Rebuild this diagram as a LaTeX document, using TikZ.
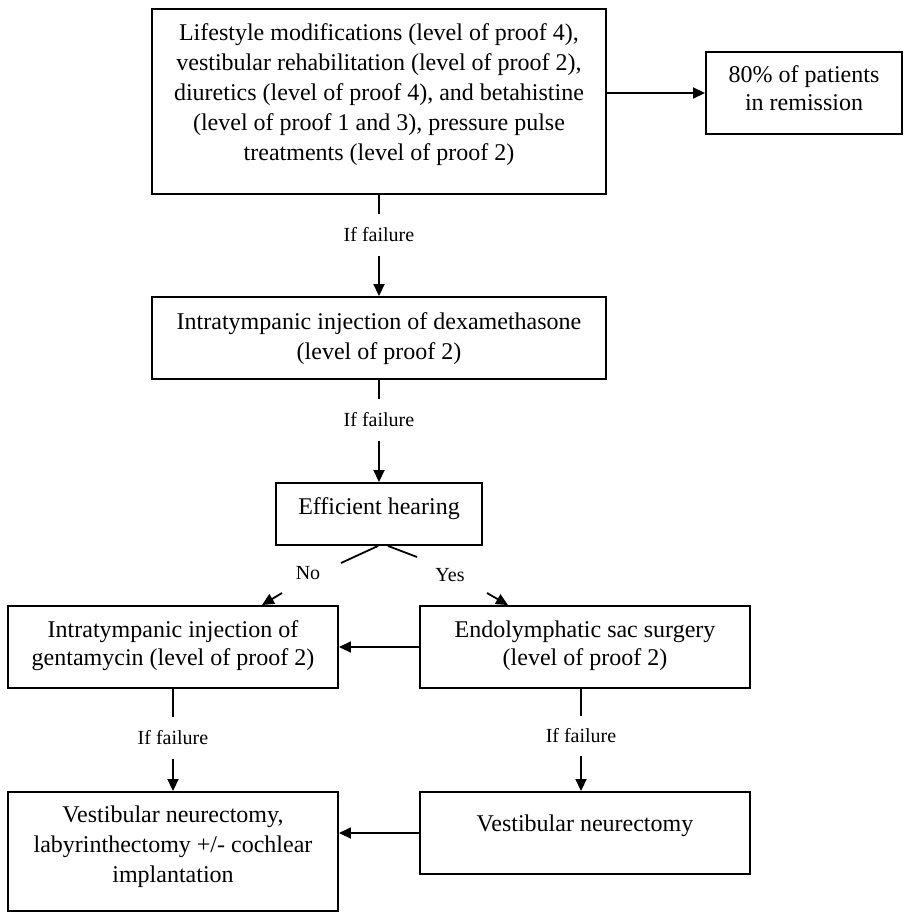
\documentclass[tikz,border=0pt]{standalone}
\usepackage{fontspec}
\setmainfont{Liberation Serif}
\usetikzlibrary{arrows.meta}
\newcommand\fsA{\fontsize{24}{30}\selectfont}
\newcommand\fsB{\fontsize{24}{28}\selectfont}
\newcommand\fsL{\fontsize{20}{24}\selectfont}
\newcommand\boxrows[1]{\begin{tabular}[t]{@{}c@{}}#1\end{tabular}}
\tikzset{
  box/.style={draw, line width=1.9pt, inner sep=0pt, font=\fsA, text height=21pt},
  boxB/.style={box, font=\fsB, text height=19.6pt},
  lbl/.style={inner sep=0pt, font=\fsL, minimum height=42pt},
  yn/.style={inner sep=0pt, font=\fsL},
  ln/.style={line width=1.8pt},
  arr/.style={line width=1.8pt, -{Triangle[length=12pt,width=11pt]}},
}
\begin{document}
\begin{tikzpicture}[x=1pt,y=-1pt]
\useasboundingbox (0,0) rectangle (903,913);
% boxes
\node[box, minimum width=454pt, minimum height=185pt, text depth=144pt] (top) at (379,101.5)
  {\boxrows{Lifestyle modifications (level of proof 4),\\ vestibular rehabilitation (level of proof 2),\\ diuretics (level of proof 4), and betahistine\\ (level of proof 1 and 3), pressure pulse\\ treatments (level of proof 2)}};
\node[boxB, minimum width=196pt, minimum height=82pt, text depth=41.6pt] (rem) at (804,93)
  {\boxrows{80\% of patients\\ in remission}};
\node[box, minimum width=454pt, minimum height=82pt, text depth=39pt] (dexa) at (379,338)
  {\boxrows{Intratympanic injection of dexamethasone\\ (level of proof 2)}};
\node[box, minimum width=206pt, minimum height=62pt, text depth=21pt] (eh) at (379,514)
  {\boxrows{Efficient hearing}};
\node[boxB, minimum width=330pt, minimum height=82pt, text depth=39.6pt] (gent) at (173,647)
  {\boxrows{Intratympanic injection of\\ gentamycin (level of proof 2)}};
\node[boxB, minimum width=330pt, minimum height=82pt, text depth=39.6pt] (endo) at (585,647)
  {\boxrows{Endolymphatic sac surgery\\ (level of proof 2)}};
\node[box, minimum width=330pt, minimum height=119pt, text depth=80pt] (bl) at (173,851.5)
  {\boxrows{Vestibular neurectomy,\\ labyrinthectomy +/- cochlear\\ implantation}};
\node[box, minimum width=330pt, minimum height=82pt, text depth=25pt] (vn) at (585,833)
  {\boxrows{Vestibular neurectomy}};
% labels
\node[lbl] (f1) at (379,235) {If failure};
\node[lbl] (f2) at (379,420) {If failure};
\node[lbl] (f3) at (173,738) {If failure};
\node[lbl, minimum height=40pt] (f4) at (581,736) {If failure};
\node[yn] (no) at (308,573) {No};
\node[yn] (yes) at (450,575) {Yes};
\coordinate (noA) at (341,563);
\coordinate (noB) at (282,593);
\coordinate (yesA) at (417,557);
\coordinate (yesB) at (487,593);
% connectors
\draw[arr] (top.east |- rem.west) -- (rem.west);
\draw[ln] (top.south) -- (f1.north);
\draw[arr] (f1.south) -- (dexa.north);
\draw[ln] (dexa.south) -- (f2.north);
\draw[arr] (f2.south) -- (eh.north);
\draw[ln] ([xshift=-1pt]eh.south) -- (noA);
\draw[arr] (noB) -- ([xshift=89pt]gent.north);
\draw[ln] ([xshift=9pt]eh.south) -- (yesA);
\draw[arr] (yesB) -- ([xshift=-77pt]endo.north);
\draw[arr] (endo.west) -- (endo.west -| gent.east);
\draw[ln] (gent.south) -- (f3.north);
\draw[arr] (f3.south) -- (bl.north);
\draw[ln] ([xshift=-4pt]endo.south) -- (f4.north);
\draw[arr] (f4.south) -- (f4.south |- vn.north);
\draw[arr] (vn.west) -- (vn.west -| bl.east);
\end{tikzpicture}
\end{document}
